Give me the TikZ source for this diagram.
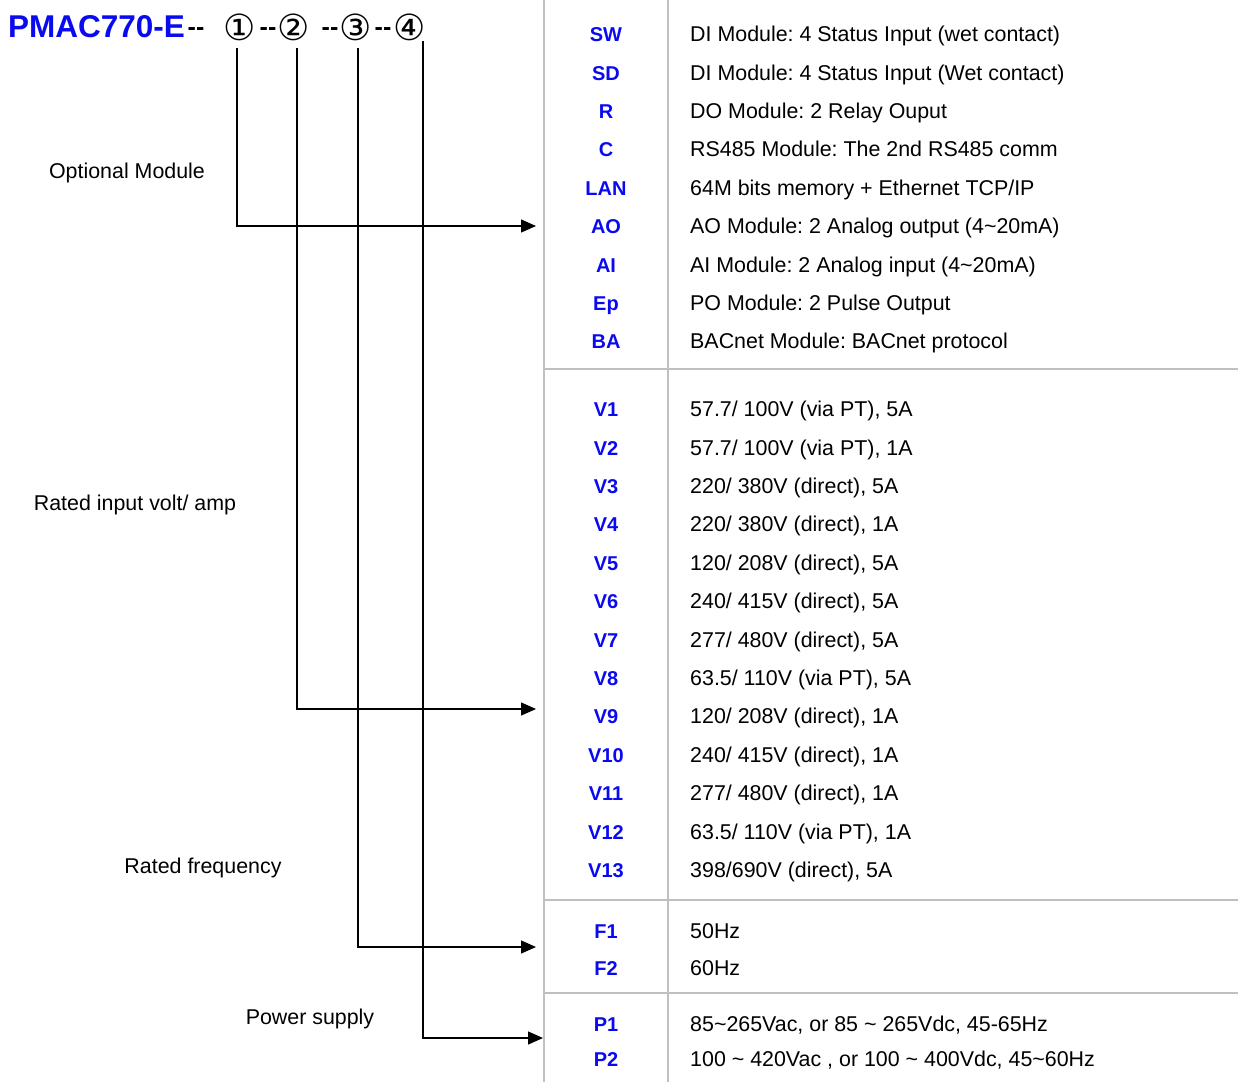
\documentclass[tikz,border=0pt]{standalone}
\usepackage{fontspec}
\setmainfont{Liberation Sans}
\newfontfamily\circfont{DejaVu Sans}
\usetikzlibrary{arrows.meta}
\definecolor{ink}{RGB}{0,0,0}
\definecolor{codeblue}{RGB}{10,10,240}
\definecolor{rulegrey}{RGB}{192,192,192}
\newcommand{\tilda}{\textasciitilde{}}
\frenchspacing
\tikzset{
  every picture/.style={x=1pt, y=-1pt, color=ink, font=\fontsize{21.4}{24}\selectfont},
  codetxt/.style={anchor=mid, inner sep=0pt, yshift=-5pt, text=codeblue, font=\fontsize{20}{24}\selectfont\bfseries},
  desc/.style={anchor=mid west, inner sep=0pt, yshift=-5pt},
  group/.style={anchor=mid, inner sep=0pt, yshift=-5pt, align=center},
  digit/.style={anchor=center, inner sep=0pt, font=\fontsize{36}{40}\selectfont\circfont},
  hyph/.style={anchor=base, inner sep=0pt, font=\fontsize{25}{30}\selectfont\bfseries},
  tablerule/.style={draw=rulegrey, line width=2.5pt},
  lead/.style={-{Triangle[length=15pt,width=13pt]}, line width=1.3pt},
}
\begin{document}
\begin{tikzpicture}
  \useasboundingbox (0,0) rectangle (1238,1082);
  % part number
  \node[anchor=base west, inner sep=0pt, text=codeblue, font=\fontsize{31.5}{34}\selectfont\bfseries] (title) at (8,37) {PMAC770-E};
  \node[hyph] (m0) at (196,35) {-{}-};
  \foreach \i/\x in {1/240,2/294,3/356,4/410} { \node[digit] (d\i) at (\x,27.5) {\makebox[26pt]{\ifcase\i\or①\or②\or③\or④\fi}}; }
  \foreach \i/\x in {1/268,2/330,3/383} { \node[hyph] (m\i) at (\x,35) {-{}-}; }
  % table rules
  \draw[tablerule] (544,0) -- (544,1082);
  \draw[tablerule] (668,0) -- (668,1082);
  \foreach \y in {369,900,993} { \draw[tablerule] (544,\y) -- (1238,\y); }
  % optional module
  \foreach \c/\d [count=\n from 0] in {SW/DI Module: 4 Status Input (wet contact), SD/DI Module: 4 Status Input (Wet contact), R/DO Module: 2 Relay Ouput, C/RS485 Module: The 2nd RS485 comm, LAN/{64M bits memory + Ethernet TCP/IP}, AO/AO Module: 2 Analog output (4\tilda20mA), AI/AI Module: 2 Analog input (4\tilda20mA), Ep/PO Module: 2 Pulse Output, BA/BACnet Module: BACnet protocol} {
    \node[codetxt] (c\c) at (606,34+38.4*\n) {\c};
    \node[desc] at (690,34+38.4*\n) {\d};
  }
  % rated input
  \foreach \d [count=\n from 1] in {{57.7/ 100V (via PT), 5A}, {57.7/ 100V (via PT), 1A}, {220/ 380V (direct), 5A}, {220/ 380V (direct), 1A}, {120/ 208V (direct), 5A}, {240/ 415V (direct), 5A}, {277/ 480V (direct), 5A}, {63.5/ 110V (via PT), 5A}, {120/ 208V (direct), 1A}, {240/ 415V (direct), 1A}, {277/ 480V (direct), 1A}, {63.5/ 110V (via PT), 1A}, {398/690V (direct), 5A}} {
    \node[codetxt] (cV\n) at (606,409+38.4*\n-38.4) {V\n};
    \node[desc] at (690,409+38.4*\n-38.4) {\d};
  }
  % frequency and power
  \node[codetxt] (cF1) at (606,931) {F1};
  \node[desc] at (690,931) {50Hz};
  \node[codetxt] (cF2) at (606,968) {F2};
  \node[desc] at (690,968) {60Hz};
  \node[codetxt] (cP1) at (606,1024) {P1};
  \node[desc] at (690,1024) {85\tilda265Vac, or 85 \tilda{} 265Vdc, 45-65Hz};
  \node[codetxt] (cP2) at (606,1059) {P2};
  \node[desc] at (690,1059) {100 \tilda{} 420Vac , or 100 \tilda{} 400Vdc, 45\tilda60Hz};
  % group labels
  \node[group] (g1) at (127,171) {Optional Module};
  \node[group] (g2) at (135,503) {Rated input volt/ amp};
  \node[group] (g3) at (203,866) {Rated frequency};
  \node[group] (g4) at (310,1017) {Power supply};
  % leaders
  \foreach \i/\x/\t/\y/\e in {1/237/48/226/536,2/297/48/709/536,3/358/48/947/536,4/423/41/1038/543} {
    \coordinate (s\i) at (\x,\t);
    \coordinate (t\i) at (\e,\y);
    \draw[lead] (s\i) |- (t\i);
  }
\end{tikzpicture}
\end{document}
